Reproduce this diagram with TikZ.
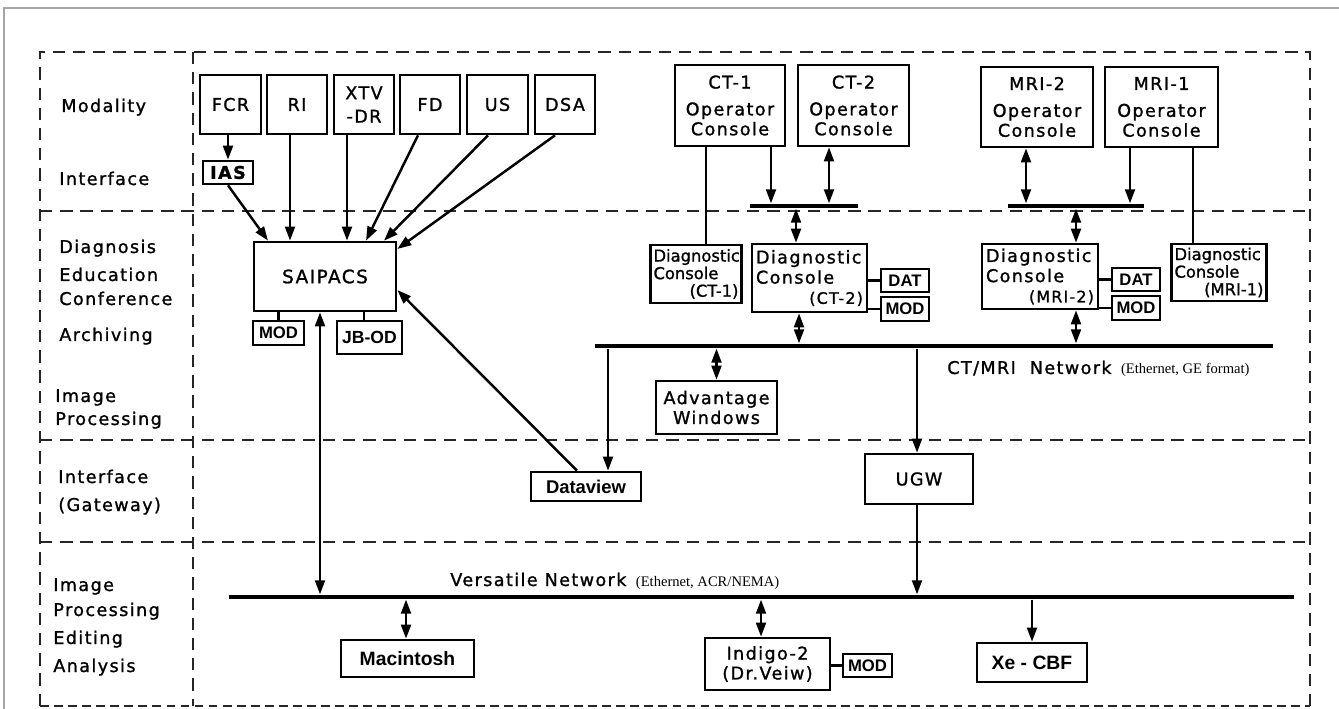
\documentclass[tikz,border=0pt]{standalone}
\usepackage{fontspec}
\setmainfont{DejaVu Sans}[LetterSpace=8,FakeBold=1.2]
\newfontfamily\plainsans{DejaVu Sans}[FakeBold=1.2]
\newfontfamily\boldsans{Liberation Sans}
\newfontfamily\notefont{Liberation Serif}
\usetikzlibrary{arrows.meta,positioning,calc}
\tikzset{
  >={Triangle[length=8pt,width=5.6pt]},
  box/.style 2 args={draw,line width=1.5pt,inner sep=1pt,align=center,
    minimum width=#1*0.02cm,minimum height=#2*0.02cm,font=\fontsize{10}{11.3}\selectfont},
  sbox/.style 2 args={box={#1}{#2},font=\boldsans\bfseries\fontsize{9.5}{11}\selectfont},
  dgs/.style 2 args={box={#1}{#2},inner sep=0pt,align=left,font=\plainsans\fontsize{9.3}{10}\selectfont},
  dgl/.style 2 args={box={#1}{#2},inner sep=0pt,align=left,font=\fontsize{10}{11.5}\selectfont},
  bar/.style={fill=black,inner sep=0pt,minimum height=0.09cm,minimum width=#1*0.02cm},
  lab/.style={anchor=base west,inner sep=0pt,font=\fontsize{10}{12}\selectfont},
  note/.style={inner sep=0pt,font=\notefont\fontsize{8.3}{9}\selectfont},
  arr/.style={->,line width=1.4pt},
  darr/.style={<->,line width=1.4pt},
  link/.style={line width=1.3pt},
  zone/.style={draw=black!85,line width=0.9pt,dash pattern=on 7pt off 4.5pt},
}
\begin{document}
\begin{tikzpicture}[x=0.02cm,y=-0.02cm]
\useasboundingbox (0,0) rectangle (1339,709);
\draw[gray!70,line width=1pt] (4,709) -- (4,8) -- (1339,8);
% zones
\draw[zone] (40,706) -- (40,52) -- (1310,52) -- (1310,706);
\draw[zone] (193,52) -- (193,706);
\foreach \y in {211,440,542} \draw[zone] (40,\y) -- (1310,\y);
\draw[zone,line width=1.7pt,dash pattern=on 5pt off 3pt] (40,706) -- (1310,706);
\foreach \n/\x/\y/\t in {l1/61/112/Modality,l2/59/185/Interface,l3/59/253/Diagnosis,
  l4/59/281/Education,l5/59/305/Conference,l6/59/341/Archiving,l7/55/402/Image,
  l8/55/425/Processing,l9/58/483/Interface,l10/58/511/(Gateway),l11/53/591/Image,
  l12/53/616/Processing,l13/53/644/Editing,l14/53/672/Analysis}
  \node[lab] (\n) at (\x,\y) {\t};

% modalities
\node[box={61}{59}] (fcr) at (230.5,104.5) {FCR};
\node[box={60}{59}] (ri) at (297,104.5) {RI};
\node[box={60}{59}] (xtv) at (364,104.5) {XTV\\[2pt]-DR};
\node[box={60}{59}] (fd) at (430,104.5) {FD};
\node[box={61}{59}] (us) at (497.5,104.5) {US};
\node[box={60}{59}] (dsa) at (565,104.5) {DSA};
\node[box={50}{23},font=\bfseries\fontsize{10}{11}\selectfont] (ias) at (228,172.5) {IAS};
\node[box={142}{69},font=\fontsize{10.5}{12}\selectfont] (sai) at (325,276.5) {SAIPACS};
\node[sbox={51}{24}] (smod) at (278.5,333) {MOD};
\node[sbox={65}{33},font=\boldsans\bfseries\fontsize{10}{11}\selectfont] (jbod) at (369.5,337.5) {JB-OD};

% CT
\node[box={110}{81}] (ct1op) at (730,105.5) {CT-1\\[4pt]Operator\\Console};
\node[box={111}{81}] (ct2op) at (853.5,105.5) {CT-2\\[4pt]Operator\\Console};
\node[bar=108] (ctbus) at (804,206) {};
\node[dgs={91}{58},text width=1.7cm] (ct1dg) at (696,274) {Diagnostic\\Console\\\hspace*{\fill}(CT-1)};
\node[dgl={115}{68},text width=2.14cm] (ct2dg) at (809.5,278) {Diagnostic\\Console\\\hspace*{\fill}{\fontsize{9}{10}\selectfont(CT-2)}};
\node[sbox={48}{23}] (ctdat) at (905,280.5) {DAT};
\node[sbox={48}{24}] (ctmod) at (905,309) {MOD};

% MRI
\node[box={112}{80}] (mr2op) at (1037,107) {MRI-2\\[4pt]Operator\\Console};
\node[box={113}{80}] (mr1op) at (1161.5,107) {MRI-1\\[4pt]Operator\\Console};
\node[bar=136] (mrbus) at (1076,206) {};
\node[dgl={116}{65},text width=2.16cm] (mr2dg) at (1040,276.5) {Diagnostic\\Console\\\hspace*{\fill}{\fontsize{9}{10}\selectfont(MRI-2)}};
\node[sbox={48}{23}] (mrdat) at (1136,279.5) {DAT};
\node[sbox={48}{24}] (mrmod) at (1136,308) {MOD};
\node[dgs={95}{57},text width=1.78cm] (mr1dg) at (1219,272.5) {Diagnostic\\Console\\\hspace*{\fill}(MRI-1)};

% networks
\node[bar=678] (ctnet) at (934,346) {};
\node[lab] (ctlab) at (947,374) {CT/MRI\ \ Network};
\node[note,right=5pt of ctlab.base east,anchor=base west] (ctnote) {(Ethernet, GE format)};
\node[box={121}{53}] (adv) at (716.5,407.5) {Advantage\\Windows};
\node[sbox={110}{29},font=\boldsans\bfseries\fontsize{10.5}{12}\selectfont] (dview) at (586,486.5) {Dataview};
\node[box={108}{50}] (ugw) at (919,479) {UGW};
\node[bar=1065] (vnet) at (761.5,597) {};
\node[lab] (vlab) at (450,586) {Versatile\ Network};
\node[note,right=5pt of vlab.base east,anchor=base west] (vnote) {(Ethernet, ACR/NEMA)};
\node[sbox={133}{37},font=\boldsans\bfseries\fontsize{11}{12}\selectfont] (mac) at (407.5,658.5) {Macintosh};
\node[box={125}{52}] (indigo) at (767.5,664) {Indigo-2\\(Dr.Veiw)};
\node[sbox={49}{23}] (imod) at (867.5,665.5) {MOD};
\node[sbox={110}{39},font=\boldsans\bfseries\fontsize{11}{12}\selectfont] (xe) at (1032,662.5) {Xe - CBF};

% connectors
\draw[arr] (fcr.south -| ias.north) -- (ias.north);
\draw[arr] (ias.south) -- (268,0 |- sai.north);
\draw[arr] (290,0 |- ri.south) -- (290,0 |- sai.north);
\draw[arr] (347,0 |- xtv.south) -- (347,0 |- sai.north);
\draw[arr] (418,0 |- fd.south) -- (366,0 |- sai.north);
\draw[arr] (488,0 |- us.south) -- (384,0 |- sai.north);
\draw[arr] (555,0 |- dsa.south) -- (sai.east |- 0,249);
\draw[link] (smod.north) -- (smod.north |- sai.south);
\draw[link] (364,0 |- jbod.north) -- (364,0 |- sai.south);
\draw[darr] (320,0 |- sai.south) -- (320,0 |- vnet.north);
\draw[arr] (577,0 |- dview.north) -- (sai.east |- 0,290);

\draw[link] (706,0 |- ct1op.south) -- (706,0 |- ct1dg.north);
\draw[arr] (771,0 |- ct1op.south) -- (771,0 |- ctbus.north);
\draw[darr] (829,0 |- ct2op.south) -- (829,0 |- ctbus.north);
\draw[darr] (796,0 |- ctbus.south) -- (796,0 |- ct2dg.north);
\draw[darr] (799,0 |- ct2dg.south) -- (799,0 |- ctnet.north);
\foreach \b in {ctdat,ctmod} \draw[link] (\b.west) -- (\b.west -| ct2dg.east);

\draw[darr] (1026,0 |- mr2op.south) -- (1026,0 |- mrbus.north);
\draw[arr] (1130,0 |- mr1op.south) -- (1130,0 |- mrbus.north);
\draw[link] (1193,0 |- mr1op.south) -- (1193,0 |- mr1dg.north);
\draw[darr] (1076,0 |- mrbus.south) -- (1076,0 |- mr2dg.north);
\draw[darr] (1076,0 |- mr2dg.south) -- (1076,0 |- ctnet.north);
\foreach \b in {mrdat,mrmod} \draw[link] (\b.west) -- (\b.west -| mr2dg.east);

\draw[arr] (608,0 |- ctnet.south) -- (608,0 |- dview.north);
\draw[darr] (adv.north |- ctnet.south) -- (adv.north);
\draw[arr] (917,0 |- ctnet.south) -- (917,0 |- ugw.north);
\draw[arr] (917,0 |- ugw.south) -- (917,0 |- vnet.north);
\draw[darr] (406,0 |- vnet.south) -- (406,0 |- mac.north);
\draw[darr] (761,0 |- vnet.south) -- (761,0 |- indigo.north);
\draw[link] (indigo.east |- imod.west) -- (imod.west);
\draw[arr] (xe.north |- vnet.south) -- (xe.north);
\end{tikzpicture}
\end{document}
